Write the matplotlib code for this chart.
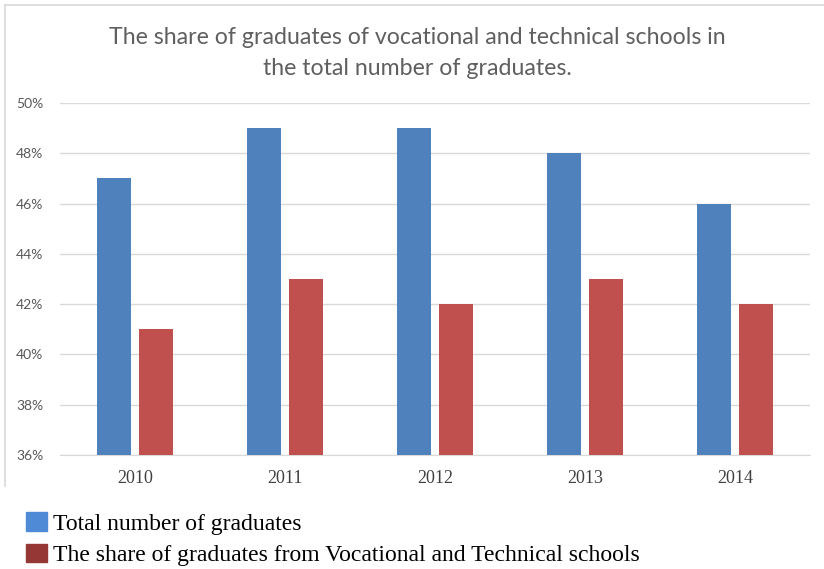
import matplotlib
matplotlib.use("Agg")
import matplotlib.pyplot as plt
from matplotlib.lines import Line2D
from matplotlib.patches import Patch
from matplotlib.ticker import FuncFormatter
import numpy as np

years = ["2010", "2011", "2012", "2013", "2014"]
total = [47, 49, 49, 48, 46]
vocational = [41, 43, 42, 43, 42]
series_names = ["Total number of graduates",
                "The share of graduates from Vocational and Technical schools"]
title = "The share of graduates of vocational and technical schools in\nthe total number of graduates."

W, H = 824, 569
fig = plt.figure(figsize=(W / 100, H / 100), dpi=100)
ax = fig.add_axes([60 / W, 1 - 455 / H, 750 / W, 352 / H])

x = np.arange(len(years))
bw = 0.227
ax.bar(x - 0.143, total, width=bw, color="#4F81BD", zorder=3)
ax.bar(x + 0.143, vocational, width=bw, color="#C0504D", zorder=3)

ax.set_xlim(-0.5, len(years) - 0.5)
ax.set_ylim(36, 50)
ax.set_yticks(np.arange(36, 51, 2))
ax.yaxis.set_major_formatter(FuncFormatter(lambda v, p: f"{v:.0f}%"))
ax.set_xticks(x)
ax.set_xticklabels(years, fontfamily="Liberation Serif", fontsize=13, color="#404040")
for lab in ax.get_yticklabels():
    lab.set_fontfamily("Lato")
    lab.set_fontsize(10)
    lab.set_color("#595959")
ax.tick_params(axis="both", length=0)
ax.tick_params(axis="x", pad=11)
ax.tick_params(axis="y", pad=12)
ax.grid(axis="y", color="#D9D9D9", linewidth=1, zorder=0)
for s in ["top", "right", "left"]:
    ax.spines[s].set_visible(False)
ax.spines["bottom"].set_color("#D9D9D9")

fig.text(417 / W, 1 - 53 / H, title, ha="center", va="center", fontsize=16.7,
         fontfamily="Lato", color="#5F5F5F", linespacing=1.55)

# chart frame (top and left edges visible)
fig.add_artist(Line2D([4.5 / W, 1.0], [1 - 4.5 / H, 1 - 4.5 / H],
                      transform=fig.transFigure, color="#D9D9D9", linewidth=1.2))
fig.add_artist(Line2D([4.5 / W, 4.5 / W], [1 - 4.5 / H, 1 - 486 / H],
                      transform=fig.transFigure, color="#D9D9D9", linewidth=1.2))

handles = [Patch(color="#4F8AD6"), Patch(color="#953735")]
fig.legend(handles, series_names, loc="upper left", bbox_to_anchor=(26 / W, 1 - 512 / H),
           frameon=False, prop={"family": "Liberation Serif", "size": 17},
           handlelength=0.9, handleheight=0.85, handletextpad=0.25, labelspacing=0.38,
           borderaxespad=0, borderpad=0)

fig.savefig("out.png", dpi=100)
